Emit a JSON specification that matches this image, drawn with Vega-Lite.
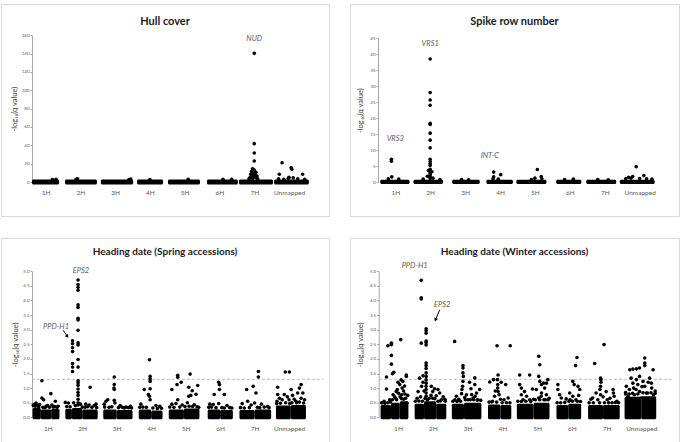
{
"$schema": "https://vega.github.io/schema/vega-lite/v6.json",
"padding": {"left": 0, "top": 3, "right": 4, "bottom": 0},
"background": "white",
"config": {
  "font": "Lato",
  "view": {"stroke": "#d9d9d9", "strokeWidth": 1},
  "axis": {"grid": false, "labelFont": "Lato", "titleFont": "Lato", "labelColor": "#595959", "titleColor": "#404040"},
  "title": {"font": "Lato", "fontWeight": "bold", "color": "#1a1a1a", "anchor": "middle", "frame": "group"}
},
"datasets": {
  "tl_band": [
    {"x":0.11,"x2":0.89,"y":-2.6,"y2":2.6},{"x":1.06,"x2":1.98,"y":-2.6,"y2":2.6},{"x":2.09,"x2":3.02,"y":-2.6,"y2":2.6},{"x":3.13,"x2":3.88,"y":-2.6,"y2":2.6},
    {"x":4.02,"x2":4.94,"y":-2.6,"y2":2.6},{"x":5.14,"x2":6.03,"y":-2.6,"y2":2.6},{"x":6.06,"x2":7.04,"y":-2.6,"y2":2.6},{"x":7.07,"x2":8.07,"y":-2.6,"y2":2.6}
  ],
  "tl_pts": [
    {"x":6.5,"y":140.3},{"x":6.5,"y":41.8},{"x":6.5,"y":31.6},{"x":6.5,"y":22.9},
    {"x":6.45,"y":14.5},{"x":6.5,"y":13},{"x":6.42,"y":11.5},{"x":6.55,"y":10.5},{"x":6.47,"y":9.5},{"x":6.4,"y":8.5},{"x":6.52,"y":8},{"x":6.44,"y":7},{"x":6.58,"y":6.5},{"x":6.48,"y":5.5},{"x":6.38,"y":5},{"x":6.55,"y":4.5},{"x":6.45,"y":4},{"x":6.6,"y":3.5},{"x":6.35,"y":3.5},
    {"x":7.22,"y":8.4},{"x":7.3,"y":21},{"x":7.56,"y":15.6},{"x":7.58,"y":14},{"x":7.89,"y":8.4},{"x":7.5,"y":5},{"x":7.48,"y":4},{"x":7.62,"y":4.5},{"x":7.2,"y":3.5},{"x":7.35,"y":3},{"x":7.75,"y":3.5},{"x":7.95,"y":3},
    {"x":1.42,"y":3.6},{"x":1.38,"y":3},{"x":0.7,"y":2.8},{"x":0.8,"y":3},{"x":2.95,"y":3.2},{"x":2.9,"y":2.8},{"x":4.6,"y":3},{"x":5.6,"y":3},{"x":5.85,"y":3},{"x":3.5,"y":2.8}
  ],
  "tl_ann": [{"x":6.5,"y":156,"t":"NUD"}],
  "tr_band": [
    {"x":0.07,"x2":0.91,"y":-0.65,"y2":0.7},{"x":1.02,"x2":1.87,"y":-0.65,"y2":0.7},{"x":2.13,"x2":2.92,"y":-0.65,"y2":0.7},{"x":3.11,"x2":3.87,"y":-0.65,"y2":0.7},
    {"x":3.97,"x2":4.83,"y":-0.65,"y2":0.7},{"x":5.11,"x2":5.83,"y":-0.65,"y2":0.7},{"x":5.97,"x2":6.83,"y":-0.65,"y2":0.7},{"x":6.93,"x2":7.93,"y":-0.65,"y2":0.7}
  ],
  "tr_pts": [
    {"x":0.39,"y":7.1},{"x":0.39,"y":6.5},{"x":0.4,"y":1.6},{"x":0.3,"y":1.0},{"x":0.6,"y":0.9},
    {"x":1.5,"y":38.5},{"x":1.5,"y":28.0},{"x":1.5,"y":25.7},{"x":1.5,"y":24.0},{"x":1.5,"y":18.4},{"x":1.5,"y":18.0},{"x":1.5,"y":15.3},{"x":1.5,"y":13.1},{"x":1.5,"y":10.7},{"x":1.5,"y":7.1},{"x":1.5,"y":6.4},{"x":1.5,"y":5.7},{"x":1.5,"y":5.2},{"x":1.5,"y":4.0},{"x":1.5,"y":3.5},{"x":1.5,"y":3.0},{"x":1.5,"y":2.5},{"x":1.5,"y":2.0},{"x":1.5,"y":1.5},{"x":1.5,"y":1.0},
    {"x":1.45,"y":3.6},{"x":1.55,"y":3.2},{"x":1.42,"y":1.8},{"x":1.58,"y":1.2},{"x":1.78,"y":0.8},{"x":1.3,"y":0.9},
    {"x":2.4,"y":0.8},{"x":2.6,"y":0.7},
    {"x":3.32,"y":3.1},{"x":3.32,"y":1.6},{"x":3.52,"y":2.3},{"x":3.3,"y":1.0},{"x":3.45,"y":0.9},
    {"x":4.57,"y":3.9},{"x":4.68,"y":1.7},{"x":4.7,"y":1.0},{"x":4.4,"y":0.8},{"x":4.5,"y":1.2},
    {"x":5.6,"y":0.9},{"x":5.35,"y":0.8},{"x":6.3,"y":0.8},{"x":6.6,"y":0.7},
    {"x":7.4,"y":4.8},{"x":7.62,"y":2.0},{"x":7.3,"y":1.7},{"x":7.18,"y":1.5},{"x":7.25,"y":1.2},{"x":7.5,"y":1.1},{"x":7.7,"y":1.0},{"x":7.1,"y":1.0},{"x":7.85,"y":0.9}
  ],
  "tr_ann": [{"x":0.5,"y":13.5,"t":"VRS3"},{"x":1.5,"y":43.2,"t":"VRS1"},{"x":3.21,"y":8.2,"t":"INT-C"}],
  "bl_band": [
    {"x":0.06,"x2":0.3,"y":-0.07,"y2":0.32},{"x":0.3,"x2":0.6,"y":-0.07,"y2":0.27},{"x":0.6,"x2":0.84,"y":-0.07,"y2":0.29},
    {"x":1.01,"x2":1.2,"y":-0.07,"y2":0.29},{"x":1.2,"x2":1.5,"y":-0.07,"y2":0.32},{"x":1.5,"x2":1.95,"y":-0.07,"y2":0.27},
    {"x":2.11,"x2":2.5,"y":-0.07,"y2":0.27},{"x":2.5,"x2":2.96,"y":-0.07,"y2":0.25},
    {"x":3.14,"x2":3.5,"y":-0.07,"y2":0.27},{"x":3.5,"x2":3.83,"y":-0.07,"y2":0.23},
    {"x":4.01,"x2":4.45,"y":-0.07,"y2":0.27},{"x":4.45,"x2":4.9,"y":-0.07,"y2":0.3},
    {"x":5.14,"x2":5.5,"y":-0.07,"y2":0.27},{"x":5.5,"x2":5.87,"y":-0.07,"y2":0.25},
    {"x":6.06,"x2":6.5,"y":-0.07,"y2":0.25},{"x":6.5,"x2":6.98,"y":-0.07,"y2":0.27},
    {"x":7.12,"x2":7.55,"y":-0.07,"y2":0.4},{"x":7.55,"x2":7.99,"y":-0.07,"y2":0.42}
  ],
  "bl_pts": [
    {"x":0.33,"y":1.25},{"x":0.33,"y":0.66},{"x":0.38,"y":0.6},{"x":0.59,"y":0.81},{"x":0.72,"y":0.55},{"x":0.16,"y":0.49},{"x":0.1,"y":0.44},{"x":0.26,"y":0.44},{"x":0.5,"y":0.4},{"x":0.7,"y":0.37},{"x":0.2,"y":0.4},{"x":0.45,"y":0.38},{"x":0.8,"y":0.38},{"x":0.62,"y":0.42},
    {"x":0.08,"y":0.4},{"x":0.14,"y":0.38},{"x":0.24,"y":0.36},{"x":0.36,"y":0.34},{"x":0.42,"y":0.33},{"x":0.55,"y":0.34},{"x":0.66,"y":0.35},{"x":0.77,"y":0.34},
    {"x":1.22,"y":2.62},{"x":1.22,"y":2.52},{"x":1.22,"y":2.38},{"x":1.22,"y":2.25},{"x":1.22,"y":1.84},{"x":1.22,"y":1.72},{"x":1.22,"y":1.57},
    {"x":1.38,"y":4.7},{"x":1.38,"y":4.55},{"x":1.38,"y":4.45},{"x":1.38,"y":4.35},{"x":1.38,"y":3.85},{"x":1.38,"y":3.76},{"x":1.38,"y":3.39},{"x":1.38,"y":3.33},{"x":1.38,"y":2.98},{"x":1.38,"y":2.55},{"x":1.38,"y":2.48},{"x":1.38,"y":1.98},{"x":1.38,"y":1.72},{"x":1.38,"y":1.25},{"x":1.38,"y":1.18},{"x":1.38,"y":1.1},{"x":1.38,"y":0.97},{"x":1.38,"y":0.85},{"x":1.38,"y":0.75},{"x":1.38,"y":0.62},{"x":1.38,"y":0.5},{"x":1.38,"y":0.42},
    {"x":1.73,"y":1.03},{"x":1.01,"y":0.51},{"x":1.1,"y":0.49},{"x":1.45,"y":0.45},{"x":1.6,"y":0.45},{"x":1.7,"y":0.42},{"x":1.85,"y":0.4},{"x":1.25,"y":0.5},{"x":1.9,"y":0.45},
    {"x":1.05,"y":0.37},{"x":1.15,"y":0.36},{"x":1.3,"y":0.4},{"x":1.5,"y":0.35},{"x":1.58,"y":0.34},{"x":1.66,"y":0.36},{"x":1.78,"y":0.34},{"x":1.92,"y":0.33},
    {"x":2.43,"y":1.38},{"x":2.43,"y":1.12},{"x":2.42,"y":1.0},{"x":2.43,"y":0.95},{"x":2.43,"y":0.58},{"x":2.45,"y":0.49},{"x":2.19,"y":0.55},{"x":2.14,"y":0.45},{"x":2.77,"y":0.35},{"x":2.24,"y":0.6},{"x":2.6,"y":0.4},{"x":2.9,"y":0.38},
    {"x":2.15,"y":0.35},{"x":2.28,"y":0.34},{"x":2.36,"y":0.36},{"x":2.55,"y":0.33},{"x":2.66,"y":0.34},{"x":2.72,"y":0.32},{"x":2.84,"y":0.33},{"x":2.93,"y":0.32},
    {"x":3.45,"y":1.97},{"x":3.47,"y":1.4},{"x":3.47,"y":1.31},{"x":3.47,"y":1.23},{"x":3.3,"y":0.95},{"x":3.47,"y":0.98},{"x":3.42,"y":0.78},{"x":3.45,"y":0.72},{"x":3.47,"y":0.6},{"x":3.64,"y":0.4},{"x":3.2,"y":0.45},{"x":3.75,"y":0.38},
    {"x":3.17,"y":0.34},{"x":3.26,"y":0.35},{"x":3.36,"y":0.34},{"x":3.55,"y":0.32},{"x":3.68,"y":0.3},{"x":3.8,"y":0.31},
    {"x":4.1,"y":0.95},{"x":4.27,"y":1.44},{"x":4.27,"y":1.37},{"x":4.25,"y":1.12},{"x":4.37,"y":1.2},{"x":4.63,"y":1.48},{"x":4.59,"y":1.03},{"x":4.69,"y":0.91},{"x":4.65,"y":0.75},{"x":4.59,"y":0.72},{"x":4.85,"y":1.09},{"x":4.8,"y":0.79},{"x":4.27,"y":0.6},{"x":4.22,"y":0.47},{"x":4.4,"y":0.42},{"x":4.75,"y":0.43},{"x":4.55,"y":0.5},{"x":4.1,"y":0.45},
    {"x":4.04,"y":0.35},{"x":4.16,"y":0.34},{"x":4.33,"y":0.35},{"x":4.48,"y":0.37},{"x":4.6,"y":0.38},{"x":4.7,"y":0.37},{"x":4.83,"y":0.36},{"x":4.88,"y":0.34},
    {"x":5.46,"y":1.2},{"x":5.48,"y":1.12},{"x":5.48,"y":0.95},{"x":5.33,"y":0.78},{"x":5.62,"y":0.78},{"x":5.46,"y":0.47},{"x":5.3,"y":0.44},{"x":5.2,"y":0.45},{"x":5.7,"y":0.4},
    {"x":5.17,"y":0.34},{"x":5.25,"y":0.35},{"x":5.38,"y":0.33},{"x":5.55,"y":0.33},{"x":5.62,"y":0.32},{"x":5.78,"y":0.33},{"x":5.84,"y":0.32},
    {"x":6.61,"y":1.57},{"x":6.61,"y":1.38},{"x":6.46,"y":1.06},{"x":6.27,"y":0.95},{"x":6.54,"y":0.83},{"x":6.14,"y":0.47},{"x":6.3,"y":0.55},{"x":6.5,"y":0.49},{"x":6.88,"y":0.37},{"x":6.7,"y":0.45},{"x":6.4,"y":0.42},
    {"x":6.09,"y":0.33},{"x":6.2,"y":0.32},{"x":6.35,"y":0.33},{"x":6.58,"y":0.34},{"x":6.65,"y":0.33},{"x":6.78,"y":0.35},{"x":6.92,"y":0.33},
    {"x":7.39,"y":1.55},{"x":7.51,"y":1.55},{"x":7.17,"y":1.03},{"x":7.36,"y":0.78},{"x":7.56,"y":0.95},{"x":7.8,"y":1.0},{"x":7.85,"y":1.12},{"x":7.9,"y":0.83},{"x":7.75,"y":0.83},{"x":7.17,"y":0.78},{"x":7.22,"y":0.65},{"x":7.3,"y":0.6},{"x":7.5,"y":0.6},{"x":7.65,"y":0.62},{"x":7.45,"y":0.7},{"x":7.7,"y":0.55},{"x":7.95,"y":0.6},{"x":7.15,"y":0.55},{"x":7.6,"y":0.75},{"x":7.85,"y":0.65},
    {"x":7.14,"y":0.47},{"x":7.25,"y":0.48},{"x":7.4,"y":0.5},{"x":7.52,"y":0.47},{"x":7.58,"y":0.5},{"x":7.72,"y":0.5},{"x":7.8,"y":0.52},{"x":7.92,"y":0.49}
  ],
  "bl_ann": [{"x":1.46,"y":5.0,"t":"EPS2"},{"x":0.74,"y":3.09,"t":"PPD-H1"}],
  "bl_thr": [{"x":0.04,"x2":8.49,"y":1.3,"y2":1.3}],
  "bl_arrow": [{"x":0.95,"y":2.98,"x2":1.07,"y2":2.77}],
  "bl_head": [{"x":1.07,"y":2.77,"a":-36}],
  "br_band": [
    {"x":0.0,"x2":0.3,"y":-0.07,"y2":0.42},{"x":0.3,"x2":0.55,"y":-0.07,"y2":0.5},{"x":0.55,"x2":0.8,"y":-0.07,"y2":0.55},
    {"x":0.98,"x2":1.25,"y":-0.07,"y2":0.46},{"x":1.25,"x2":1.6,"y":-0.07,"y2":0.55},{"x":1.6,"x2":1.89,"y":-0.07,"y2":0.46},
    {"x":2.05,"x2":2.4,"y":-0.07,"y2":0.46},{"x":2.4,"x2":2.9,"y":-0.07,"y2":0.5},
    {"x":3.09,"x2":3.45,"y":-0.07,"y2":0.44},{"x":3.45,"x2":3.76,"y":-0.07,"y2":0.42},
    {"x":3.92,"x2":4.4,"y":-0.07,"y2":0.46},{"x":4.4,"x2":4.86,"y":-0.07,"y2":0.5},
    {"x":5.06,"x2":5.4,"y":-0.07,"y2":0.42},{"x":5.4,"x2":5.77,"y":-0.07,"y2":0.46},
    {"x":5.97,"x2":6.4,"y":-0.07,"y2":0.42},{"x":6.4,"x2":6.88,"y":-0.07,"y2":0.42},
    {"x":7.02,"x2":7.5,"y":-0.07,"y2":0.7},{"x":7.5,"x2":7.93,"y":-0.07,"y2":0.72}
  ],
  "br_pts": [
    {"x":0.21,"y":2.45},{"x":0.31,"y":2.49},{"x":0.31,"y":2.54},{"x":0.31,"y":2.12},{"x":0.31,"y":1.82},{"x":0.38,"y":1.54},{"x":0.34,"y":1.49},{"x":0.17,"y":1.38},{"x":0.17,"y":0.97},{"x":0.58,"y":2.66},{"x":0.74,"y":1.45},{"x":0.74,"y":1.4},{"x":0.5,"y":1.2},{"x":0.55,"y":1.12},{"x":0.64,"y":1.23},{"x":0.59,"y":1.28},{"x":0.69,"y":1.07},{"x":0.45,"y":0.88},{"x":0.52,"y":0.82},{"x":0.61,"y":0.77},{"x":0.43,"y":0.65},{"x":0.36,"y":0.77},{"x":0.26,"y":0.6},{"x":0.72,"y":0.65},{"x":0.76,"y":0.49},{"x":0.48,"y":0.95},{"x":0.66,"y":0.9},{"x":0.56,"y":0.7},{"x":0.7,"y":0.8},{"x":0.4,"y":0.7},{"x":0.1,"y":0.55},{"x":0.05,"y":0.5},{"x":0.62,"y":1.0},{"x":0.78,"y":0.75},
    {"x":0.03,"y":0.5},{"x":0.12,"y":0.48},{"x":0.2,"y":0.5},{"x":0.28,"y":0.52},{"x":0.34,"y":0.6},{"x":0.46,"y":0.6},{"x":0.6,"y":0.64},{"x":0.66,"y":0.62},
    {"x":1.17,"y":2.54},{"x":1.17,"y":4.69},{"x":1.17,"y":4.09},{"x":1.17,"y":4.05},
    {"x":1.31,"y":3.03},{"x":1.31,"y":2.96},{"x":1.31,"y":2.88},{"x":1.31,"y":2.61},{"x":1.31,"y":2.56},{"x":1.31,"y":2.48},{"x":1.31,"y":1.86},{"x":1.31,"y":1.77},{"x":1.31,"y":1.67},{"x":1.31,"y":1.52},{"x":1.31,"y":1.4},{"x":1.31,"y":1.28},{"x":1.31,"y":1.17},{"x":1.31,"y":1.06},{"x":1.31,"y":0.95},{"x":1.31,"y":0.83},{"x":1.31,"y":0.72},
    {"x":1.22,"y":1.42},{"x":1.12,"y":1.34},{"x":1.22,"y":1.2},{"x":1.18,"y":1.06},{"x":1.08,"y":0.88},{"x":1.46,"y":1.06},{"x":1.5,"y":0.88},{"x":1.55,"y":0.98},{"x":1.7,"y":0.83},{"x":1.75,"y":0.6},{"x":1.4,"y":0.65},{"x":1.6,"y":0.74},{"x":1.8,"y":0.7},{"x":1.85,"y":0.62},{"x":1.15,"y":0.7},{"x":1.05,"y":0.65},{"x":1.35,"y":0.6},{"x":1.45,"y":0.75},{"x":1.25,"y":0.9},{"x":1.65,"y":0.95},
    {"x":1.0,"y":0.55},{"x":1.1,"y":0.56},{"x":1.2,"y":0.55},{"x":1.28,"y":0.64},{"x":1.5,"y":0.65},{"x":1.56,"y":0.64},{"x":1.65,"y":0.55},{"x":1.72,"y":0.56},{"x":1.86,"y":0.55},
    {"x":2.13,"y":2.6},{"x":2.37,"y":1.77},{"x":2.37,"y":1.69},{"x":2.37,"y":1.52},{"x":2.38,"y":1.4},{"x":2.37,"y":1.23},{"x":2.36,"y":1.06},{"x":2.34,"y":0.95},{"x":2.33,"y":0.81},{"x":2.47,"y":0.77},{"x":2.18,"y":0.72},{"x":2.14,"y":0.6},{"x":2.56,"y":1.2},{"x":2.6,"y":0.98},{"x":2.71,"y":1.35},{"x":2.71,"y":1.12},{"x":2.76,"y":0.83},{"x":2.66,"y":0.66},{"x":2.8,"y":0.6},{"x":2.85,"y":0.95},{"x":2.52,"y":0.6},{"x":2.25,"y":0.62},{"x":2.62,"y":0.78},{"x":2.42,"y":0.68},{"x":2.72,"y":0.72},
    {"x":2.08,"y":0.55},{"x":2.2,"y":0.54},{"x":2.3,"y":0.55},{"x":2.44,"y":0.6},{"x":2.58,"y":0.6},{"x":2.68,"y":0.6},{"x":2.78,"y":0.59},{"x":2.88,"y":0.58},
    {"x":3.35,"y":2.45},{"x":3.73,"y":2.45},{"x":3.14,"y":1.21},{"x":3.25,"y":1.29},{"x":3.38,"y":1.45},{"x":3.36,"y":1.29},{"x":3.37,"y":1.12},{"x":3.37,"y":1.0},{"x":3.38,"y":0.88},{"x":3.41,"y":0.77},{"x":3.47,"y":1.2},{"x":3.6,"y":1.12},{"x":3.67,"y":0.66},{"x":3.28,"y":0.72},{"x":3.55,"y":0.6},{"x":3.22,"y":0.55},{"x":3.45,"y":0.62},{"x":3.3,"y":0.9},
    {"x":3.12,"y":0.52},{"x":3.2,"y":0.53},{"x":3.34,"y":0.52},{"x":3.5,"y":0.5},{"x":3.62,"y":0.5},{"x":3.72,"y":0.5},
    {"x":4.0,"y":1.45},{"x":4.29,"y":1.45},{"x":4.0,"y":1.12},{"x":4.05,"y":1.0},{"x":4.14,"y":0.88},{"x":4.05,"y":0.77},{"x":4.37,"y":0.97},{"x":4.29,"y":0.6},{"x":4.2,"y":0.72},{"x":4.55,"y":2.09},{"x":4.58,"y":1.8},{"x":4.55,"y":1.4},{"x":4.58,"y":1.23},{"x":4.63,"y":1.12},{"x":4.69,"y":1.17},{"x":4.77,"y":1.17},{"x":4.81,"y":1.29},{"x":4.72,"y":1.0},{"x":4.48,"y":0.95},{"x":4.63,"y":0.83},{"x":4.77,"y":0.77},{"x":4.55,"y":0.66},{"x":4.7,"y":0.6},{"x":4.4,"y":0.62},{"x":4.85,"y":0.65},{"x":4.62,"y":0.72},{"x":4.1,"y":0.6},
    {"x":3.95,"y":0.55},{"x":4.05,"y":0.54},{"x":4.18,"y":0.55},{"x":4.32,"y":0.54},{"x":4.45,"y":0.6},{"x":4.58,"y":0.6},{"x":4.74,"y":0.6},{"x":4.82,"y":0.6},
    {"x":5.1,"y":1.12},{"x":5.1,"y":0.95},{"x":5.15,"y":0.77},{"x":5.2,"y":0.66},{"x":5.65,"y":2.05},{"x":5.61,"y":1.77},{"x":5.53,"y":1.23},{"x":5.57,"y":1.12},{"x":5.68,"y":1.06},{"x":5.73,"y":0.95},{"x":5.44,"y":0.83},{"x":5.53,"y":0.72},{"x":5.34,"y":0.63},{"x":5.62,"y":0.6},{"x":5.7,"y":0.75},{"x":5.45,"y":0.6},
    {"x":5.08,"y":0.5},{"x":5.18,"y":0.5},{"x":5.3,"y":0.51},{"x":5.42,"y":0.55},{"x":5.52,"y":0.55},{"x":5.66,"y":0.55},{"x":5.75,"y":0.54},
    {"x":6.16,"y":1.84},{"x":6.43,"y":2.49},{"x":6.33,"y":1.34},{"x":6.34,"y":1.29},{"x":6.34,"y":1.2},{"x":6.33,"y":1.06},{"x":6.31,"y":0.95},{"x":6.33,"y":0.77},{"x":6.2,"y":0.83},{"x":6.1,"y":0.66},{"x":6.49,"y":0.88},{"x":6.69,"y":0.95},{"x":6.7,"y":0.83},{"x":6.72,"y":0.72},{"x":6.52,"y":0.6},{"x":6.25,"y":0.6},{"x":6.05,"y":0.62},{"x":6.6,"y":0.65},{"x":6.4,"y":0.7},{"x":6.8,"y":0.55},
    {"x":6.0,"y":0.5},{"x":6.12,"y":0.5},{"x":6.3,"y":0.5},{"x":6.44,"y":0.5},{"x":6.56,"y":0.5},{"x":6.66,"y":0.5},{"x":6.76,"y":0.51},{"x":6.85,"y":0.5},
    {"x":7.17,"y":1.63},{"x":7.26,"y":1.65},{"x":7.36,"y":1.66},{"x":7.45,"y":1.69},{"x":7.6,"y":2.03},{"x":7.6,"y":1.86},{"x":7.6,"y":1.77},{"x":7.84,"y":1.63},{"x":7.07,"y":1.06},{"x":7.21,"y":1.34},{"x":7.36,"y":1.29},{"x":7.45,"y":1.4},{"x":7.55,"y":1.23},{"x":7.74,"y":1.34},{"x":7.79,"y":1.17},{"x":7.26,"y":1.17},{"x":7.4,"y":1.12},{"x":7.6,"y":1.06},{"x":7.8,"y":1.0},{"x":7.16,"y":0.95},{"x":7.45,"y":0.88},{"x":7.65,"y":0.83},{"x":7.3,"y":0.77},{"x":7.12,"y":0.72},{"x":7.85,"y":0.77},{"x":7.5,"y":0.66},{"x":7.22,"y":0.6},{"x":7.75,"y":0.6},{"x":7.35,"y":0.95},{"x":7.7,"y":1.2},{"x":7.52,"y":1.05},{"x":7.28,"y":1.0},{"x":7.9,"y":0.9},{"x":7.05,"y":0.85},
    {"x":7.05,"y":0.8},{"x":7.15,"y":0.8},{"x":7.25,"y":0.82},{"x":7.4,"y":0.8},{"x":7.55,"y":0.84},{"x":7.68,"y":0.83},{"x":7.78,"y":0.84},{"x":7.9,"y":0.82}
  ],
  "br_ann": [{"x":0.98,"y":5.17,"t":"PPD-H1"},{"x":1.77,"y":3.86,"t":"EPS2"}],
  "br_thr": [{"x":-0.05,"x2":8.41,"y":1.3,"y2":1.3}],
  "br_arrow": [{"x":1.7,"y":3.68,"x2":1.58,"y2":3.34}],
  "br_head": [{"x":1.58,"y":3.34,"a":22}]
},
"vconcat": [
 {"hconcat": [
  {
   "width": 328, "height": 212,
   "title": {"text": "Hull cover", "fontSize": 11, "offset": -23},
   "encoding": {
     "x": {"field": "x", "type": "quantitative", "scale": {"domain": [0, 8.2], "range": [27.1, 312.4], "nice": false, "zero": false},
           "axis": {"title": null, "values": [0.5,1.5,2.5,3.5,4.5,5.5,6.5,7.5], "labelExpr": "['1H','2H','3H','4H','5H','6H','7H','Unmapped'][floor(datum.value)]", "domain": false, "ticks": false, "labelFontSize": 6.5, "labelPadding": 7, "offset": -34}},
     "y": {"field": "y", "type": "quantitative", "scale": {"domain": [0, 160], "range": [178, 31.3], "nice": false, "zero": false},
           "axis": {"title": "-log₁₀(q value)", "titleFontSize": 7.5, "titleFontWeight": "normal", "titlePadding": 3, "values": [0,20,40,60,80,100,120,140,160], "labelFontSize": 4.5, "labelPadding": 1, "tickSize": 2, "domainColor": "#a6a6a6", "tickColor": "#a6a6a6", "offset": -31}}
   },
   "layer": [
     {"data": {"name": "tl_band"}, "mark": {"type": "rect", "color": "#000", "cornerRadius": 1.5}, "encoding": {"x2": {"field": "x2"}, "y2": {"field": "y2"}}},
     {"data": {"name": "tl_pts"}, "mark": {"type": "circle", "size": 13, "color": "#000", "opacity": 1}},
     {"data": {"name": "tl_ann"}, "mark": {"type": "text", "fontStyle": "italic", "fontSize": 7.5, "color": "#595959"}, "encoding": {"text": {"field": "t"}}}
   ]
  },
  {
   "width": 329, "height": 212,
   "title": {"text": "Spike row number", "fontSize": 11, "offset": -23},
   "encoding": {
     "x": {"field": "x", "type": "quantitative", "scale": {"domain": [0, 8.2], "range": [27.8, 314.1], "nice": false, "zero": false},
           "axis": {"title": null, "values": [0.5,1.5,2.5,3.5,4.5,5.5,6.5,7.5], "labelExpr": "['1H','2H','3H','4H','5H','6H','7H','Unmapped'][floor(datum.value)]", "domain": false, "ticks": false, "labelFontSize": 6.5, "labelPadding": 7, "offset": -34}},
     "y": {"field": "y", "type": "quantitative", "scale": {"domain": [0, 45], "range": [178, 34.3], "nice": false, "zero": false},
           "axis": {"title": "-log₁₀(q value)", "titleFontSize": 7.5, "titleFontWeight": "normal", "titlePadding": 5, "values": [0,5,10,15,20,25,30,35,40,45], "labelFontSize": 4.5, "labelPadding": 1, "tickSize": 2, "domainColor": "#a6a6a6", "tickColor": "#a6a6a6", "offset": -28}}
   },
   "layer": [
     {"data": {"name": "tr_band"}, "mark": {"type": "rect", "color": "#000", "cornerRadius": 1.5}, "encoding": {"x2": {"field": "x2"}, "y2": {"field": "y2"}}},
     {"data": {"name": "tr_pts"}, "mark": {"type": "circle", "size": 13, "color": "#000", "opacity": 1}},
     {"data": {"name": "tr_ann"}, "mark": {"type": "text", "fontStyle": "italic", "fontSize": 7.5, "color": "#595959"}, "encoding": {"text": {"field": "t"}}}
   ]
  }
 ], "spacing": 19},
 {"hconcat": [
  {
   "width": 328, "height": 207,
   "title": {"text": "Heading date (Spring accessions)", "fontSize": 10, "offset": -19},
   "encoding": {
     "x": {"field": "x", "type": "quantitative", "scale": {"domain": [0, 8.2], "range": [29.5, 312.2], "nice": false, "zero": false},
           "axis": {"title": null, "values": [0.5,1.5,2.5,3.5,4.5,5.5,6.5,7.5], "labelExpr": "['1H','2H','3H','4H','5H','6H','7H','Unmapped'][floor(datum.value)]", "domain": false, "ticks": false, "labelFontSize": 6.5, "labelPadding": 8, "offset": -27.7}},
     "y": {"field": "y", "type": "quantitative", "scale": {"domain": [0, 5], "range": [179.3, 33.3], "nice": false, "zero": false},
           "axis": {"title": "-log₁₀(q value)", "titleFontSize": 7.5, "titleFontWeight": "normal", "titlePadding": 3, "values": [0,0.5,1,1.5,2,2.5,3,3.5,4,4.5,5], "labelFontSize": 4.5, "labelPadding": 1, "tickSize": 2, "domainColor": "#a6a6a6", "tickColor": "#a6a6a6", "offset": -31}}
   },
   "layer": [
     {"data": {"name": "bl_thr"}, "mark": {"type": "rule", "color": "#bfbfbf", "strokeDash": [3, 2], "strokeWidth": 1}, "encoding": {"x2": {"field": "x2"}, "y2": {"field": "y2"}}},
     {"data": {"name": "bl_band"}, "mark": {"type": "rect", "color": "#000", "cornerRadius": 1.5}, "encoding": {"x2": {"field": "x2"}, "y2": {"field": "y2"}}},
     {"data": {"name": "bl_pts"}, "mark": {"type": "circle", "size": 13, "color": "#000", "opacity": 1}},
     {"data": {"name": "bl_arrow"}, "mark": {"type": "rule", "color": "#000", "strokeWidth": 1}, "encoding": {"x2": {"field": "x2"}, "y2": {"field": "y2"}}},
     {"data": {"name": "bl_head"}, "mark": {"type": "point", "shape": "triangle-down", "filled": true, "size": 16, "color": "#000", "opacity": 1}, "encoding": {"angle": {"field": "a", "type": "quantitative", "scale": null}}},
     {"data": {"name": "bl_ann"}, "mark": {"type": "text", "fontStyle": "italic", "fontSize": 7.5, "color": "#595959"}, "encoding": {"text": {"field": "t"}}}
   ]
  },
  {
   "width": 329, "height": 207,
   "title": {"text": "Heading date (Winter accessions)", "fontSize": 10, "offset": -19},
   "encoding": {
     "x": {"field": "x", "type": "quantitative", "scale": {"domain": [0, 8.2], "range": [30.6, 315.6], "nice": false, "zero": false},
           "axis": {"title": null, "values": [0.5,1.5,2.5,3.5,4.5,5.5,6.5,7.5], "labelExpr": "['1H','2H','3H','4H','5H','6H','7H','Unmapped'][floor(datum.value)]", "domain": false, "ticks": false, "labelFontSize": 6.5, "labelPadding": 8, "offset": -27.7}},
     "y": {"field": "y", "type": "quantitative", "scale": {"domain": [0, 5], "range": [179.3, 33.3], "nice": false, "zero": false},
           "axis": {"title": "-log₁₀(q value)", "titleFontSize": 7.5, "titleFontWeight": "normal", "titlePadding": 5, "values": [0,0.5,1,1.5,2,2.5,3,3.5,4,4.5,5], "labelFontSize": 4.5, "labelPadding": 1, "tickSize": 2, "domainColor": "#a6a6a6", "tickColor": "#a6a6a6", "offset": -28.7}}
   },
   "layer": [
     {"data": {"name": "br_thr"}, "mark": {"type": "rule", "color": "#bfbfbf", "strokeDash": [3, 2], "strokeWidth": 1}, "encoding": {"x2": {"field": "x2"}, "y2": {"field": "y2"}}},
     {"data": {"name": "br_band"}, "mark": {"type": "rect", "color": "#000", "cornerRadius": 1.5}, "encoding": {"x2": {"field": "x2"}, "y2": {"field": "y2"}}},
     {"data": {"name": "br_pts"}, "mark": {"type": "circle", "size": 13, "color": "#000", "opacity": 1}},
     {"data": {"name": "br_arrow"}, "mark": {"type": "rule", "color": "#000", "strokeWidth": 1}, "encoding": {"x2": {"field": "x2"}, "y2": {"field": "y2"}}},
     {"data": {"name": "br_head"}, "mark": {"type": "point", "shape": "triangle-down", "filled": true, "size": 16, "color": "#000", "opacity": 1}, "encoding": {"angle": {"field": "a", "type": "quantitative", "scale": null}}},
     {"data": {"name": "br_ann"}, "mark": {"type": "text", "fontStyle": "italic", "fontSize": 7.5, "color": "#595959"}, "encoding": {"text": {"field": "t"}}}
   ]
  }
 ], "spacing": 19}
],
"spacing": 20
}
